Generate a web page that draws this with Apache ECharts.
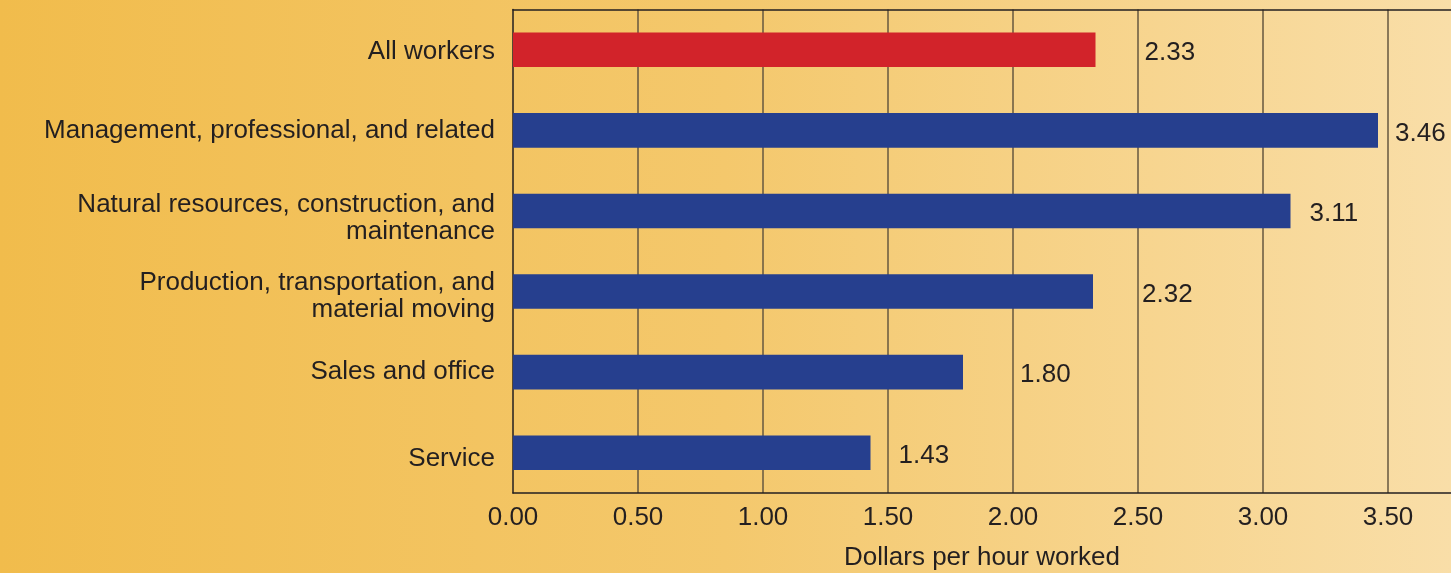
<!DOCTYPE html>
<html>
<head>
<meta charset="utf-8">
<script src="https://cdn.jsdelivr.net/npm/echarts@6/dist/echarts.min.js"></script>
<style>
  html, body { margin: 0; padding: 0; }
  #chart { width: 1451px; height: 573px; }
</style>
</head>
<body>
<div id="chart"></div>
<script>
// occupational groups, top to bottom
const categories = [
  'All workers',
  'Management, professional, and related',
  'Natural resources, construction, and\nmaintenance',
  'Production, transportation, and\nmaterial moving',
  'Sales and office',
  'Service'
]
const values = [2.33, 3.46, 3.11, 2.32, 1.80, 1.43]
const tickLabels = ['0.00', '0.50', '1.00', '1.50', '2.00', '2.50', '3.00', '3.50']

// hand placement in the original: value label gap from bar end, and
// how far each category label sits below its row centre (px)
const labelGap = [49, 17, 19, 49, 57, 28]
const catDrop = [2, 0, 7, 5, 0, 6]

const chart = echarts.init(document.getElementById('chart'))

const textColor = '#231f20'
const font = "'Liberation Sans', Arial, sans-serif"

// a thin blank first line pushes the label block down by half its height
const gapStyles = {}
catDrop.forEach((d, i) => {
  gapStyles['g' + i] = { lineHeight: 2 * d, fontSize: 2 }
})

const option = {
  backgroundColor: new echarts.graphic.LinearGradient(0, 0, 1, 0, [
    { offset: 0, color: '#f1bc4c' },
    { offset: 0.5, color: '#f4c86c' },
    { offset: 1, color: '#f9dea8' }
  ]),
  animation: false,
  grid: {
    left: 513,
    right: 0,
    top: 9.5,
    bottom: 80,
    containLabel: false,
    outerBoundsMode: 'none'
  },
  xAxis: [
    {
      type: 'value',
      min: 0,
      max: 3.752,
      interval: 0.5,
      name: 'Dollars per hour worked',
      nameLocation: 'middle',
      nameGap: 52,
      nameTextStyle: { color: textColor, fontSize: 26, fontFamily: font },
      axisLine: { show: true, lineStyle: { color: '#231f20', width: 1.5 } },
      axisTick: { show: false },
      axisLabel: {
        color: textColor,
        fontSize: 26,
        fontFamily: font,
        margin: 12,
        showMaxLabel: false,
        formatter: v => tickLabels[Math.round(v / 0.5)] || ''
      },
      splitLine: {
        show: true,
        showMinLine: false,
        showMaxLine: false,
        lineStyle: { color: '#66573f', width: 1.5 }
      }
    },
    {
      type: 'value',
      position: 'top',
      min: 0,
      max: 3.752,
      interval: 0.5,
      axisLine: { show: true, lineStyle: { color: '#231f20', width: 1.5 } },
      axisTick: { show: false },
      axisLabel: { show: false },
      splitLine: { show: false }
    }
  ],
  yAxis: {
    type: 'category',
    inverse: true,
    data: categories,
    axisLine: { show: true, lineStyle: { color: '#231f20', width: 1.5 } },
    axisTick: { show: false },
    axisLabel: {
      color: textColor,
      fontSize: 26,
      fontFamily: font,
      margin: 18,
      lineHeight: 27,
      align: 'right',
      formatter: (v, i) => {
        const k = categories.indexOf(v)
        return catDrop[k] ? '{g' + k + '| }\n' + v : v
      },
      rich: gapStyles
    }
  },
  series: [
    {
      type: 'bar',
      barWidth: '43%',
      data: values.map((v, i) => ({
        value: v,
        itemStyle: { color: i === 0 ? '#d2232a' : '#263f8e' },
        label: { distance: labelGap[i] }
      })),
      label: {
        show: true,
        position: 'right',
        offset: [0, 3],
        color: textColor,
        fontSize: 26,
        fontFamily: font,
        formatter: p => p.value.toFixed(2)
      }
    }
  ]
}

chart.setOption(option)
</script>
</body>
</html>
